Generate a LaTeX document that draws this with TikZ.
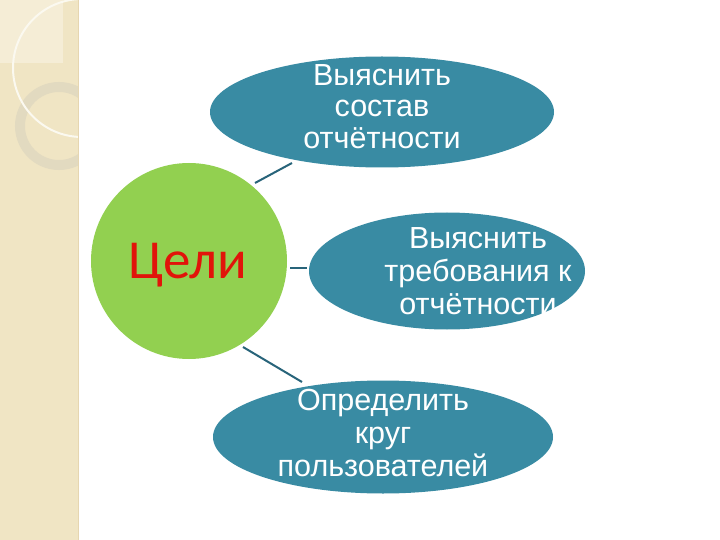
\documentclass[tikz,border=0pt]{standalone}
\usepackage{fontspec}
\setmainfont{Liberation Sans}
\newfontfamily\carlitofont{Carlito}
\usetikzlibrary{shapes.geometric}
\definecolor{stripbeige}{RGB}{240,229,196}
\definecolor{lightbeige}{RGB}{245,237,214}
\definecolor{ringcol}{RGB}{226,218,192}
\definecolor{edgecol}{RGB}{230,214,176}
\definecolor{tealfill}{RGB}{57,139,163}
\definecolor{linecol}{RGB}{40,100,122}
\definecolor{goalgreen}{RGB}{146,208,80}
\definecolor{goalred}{RGB}{225,20,10}
\tikzset{
  goalbox/.style={ellipse, fill=tealfill, draw=none, inner sep=0pt},
  goaltext/.style={anchor=north, align=center, text=white, inner sep=0pt},
  link/.style={draw=linecol, line width=2pt},
}
\begin{document}
\begin{tikzpicture}[x=1pt,y=-1pt]
\useasboundingbox (0,0) rectangle (720,540);
\fill[white] (0,0) rectangle (720,540);
% decorative strip
\fill[stripbeige] (0,0) rectangle (78,540);
\fill[lightbeige] (0,0) rectangle (63,63);
\begin{scope}
  \clip (0,0) rectangle (78,540);
  \draw[ringcol, line width=10pt] (59,126) circle[radius=39pt];
  \draw[white!75!stripbeige, line width=2pt] (82,68) circle[radius=69pt];
\end{scope}
\draw[edgecol, line width=0.8pt] (78,0) -- (78,540);
% shapes
\node[circle, fill=goalgreen, minimum size=196pt, inner sep=0pt] (goal) at (189,261) {};
\node[goalbox, minimum width=344pt, minimum height=111pt] (e1) at (382,112) {};
\node[goalbox, minimum width=276pt, minimum height=117pt] (e2) at (447,271) {};
\node[goalbox, minimum width=340pt, minimum height=113pt] (e3) at (383,437) {};
% texts
\node[anchor=base, text=goalred, font=\carlitofont\fontsize{55}{60}\selectfont, inner sep=0pt] (gt) at (188,278) {Цели};
\node[goaltext, font=\fontsize{30.5}{31.5}\selectfont] (t1) at (382,64) {Выяснить\\состав\\отчётности};
\node[goaltext, font=\fontsize{30.5}{33}\selectfont] (t2) at (478,227) {Выяснить\\требования к\\отчётности};
\node[goaltext, font=\fontsize{30.5}{33}\selectfont] (t3) at (383,389.5) {Определить\\круг\\пользователей};
% connectors
\coordinate (c1a) at (255,183); \coordinate (c1b) at (292,163);
\coordinate (c2a) at (290,268); \coordinate (c2b) at (307,268);
\coordinate (c3a) at (243,347); \coordinate (c3b) at (302,382);
\draw[link] (c1a) -- (c1b);
\draw[link] (c2a) -- (c2b);
\draw[link] (c3a) -- (c3b);
\end{tikzpicture}
\end{document}
